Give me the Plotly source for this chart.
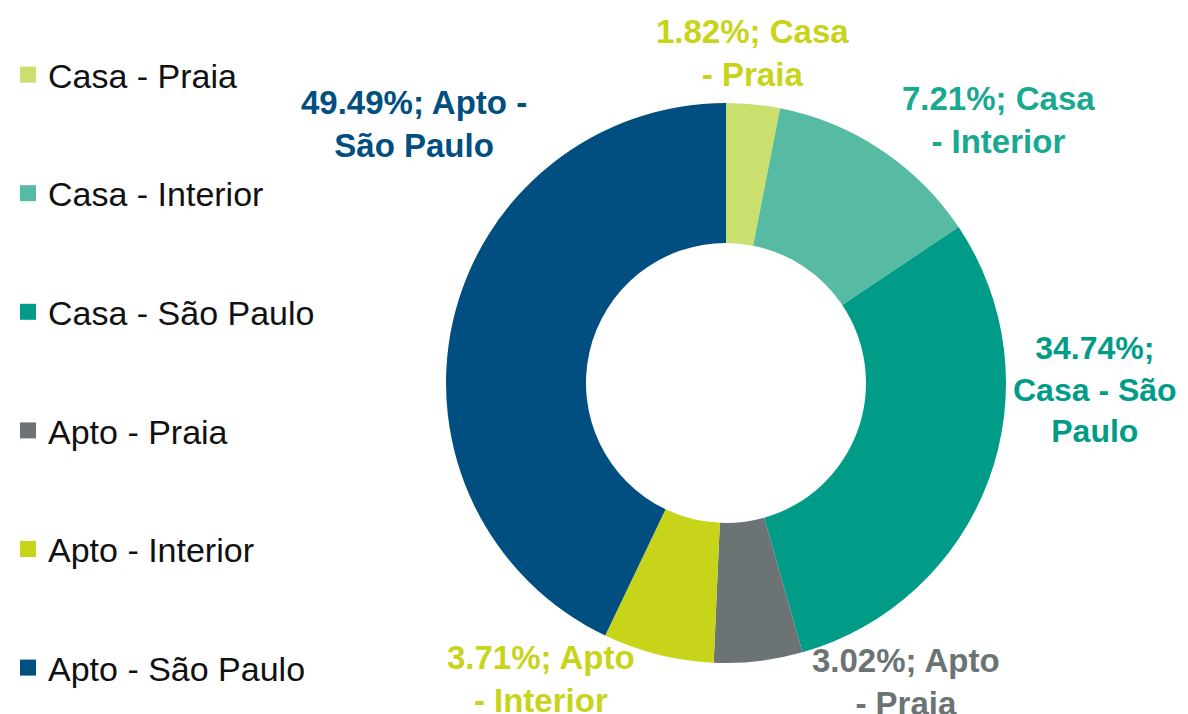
import plotly.graph_objects as go

categories = ["Casa - Praia", "Casa - Interior", "Casa - São Paulo",
              "Apto - Praia", "Apto - Interior", "Apto - São Paulo"]
# slice shares as drawn in the picture
slice_values = [3.1, 12.5, 30.0, 5.1, 6.4, 42.9]
# percentages printed on the labels
label_pct = ["1.82%", "7.21%", "34.74%", "3.02%", "3.71%", "49.49%"]
label_text = ["1.82%; Casa<br>- Praia", "7.21%; Casa<br>- Interior",
              "34.74%;<br>Casa - São<br>Paulo", "3.02%; Apto<br>- Praia",
              "3.71%; Apto<br>- Interior", "49.49%; Apto -<br>São Paulo"]

slice_colors = ["#C9E06E", "#56BBA2", "#009C87", "#6B7375", "#C8D419", "#004F80"]
label_colors = ["#C8D419", "#19A890", "#009C87", "#6B7375", "#C8D419", "#004F80"]
# label block centres in pixels (x, y from top) and font sizes
label_pos = [(744, 45), (990, 112), (1087, 381), (898, 674), (533, 671), (406, 116)]
label_size = [33, 33, 32, 33, 33, 33]

W, H = 1188, 714
FONT = "Liberation Sans, Arial, sans-serif"

fig = go.Figure()
fig.add_trace(go.Pie(
    labels=categories, values=slice_values, sort=False, direction="clockwise",
    rotation=0, hole=0.5, marker=dict(colors=slice_colors, line=dict(width=0)),
    textinfo="none", showlegend=False, hoverinfo="label+value",
    domain=dict(x=[438 / W, 998 / W], y=[59 / H, 619 / H]),
))

for cat, col in zip(categories, slice_colors):
    fig.add_trace(go.Scatter(
        x=[None], y=[None], mode="markers", name=cat, legendgroup=cat,
        marker=dict(symbol="square", size=20, color=col),
    ))

for txt, col, (px, py), sz in zip(label_text, label_colors, label_pos, label_size):
    fig.add_annotation(
        x=px / W, y=1 - py / H, xref="paper", yref="paper",
        text="<b>" + txt + "</b>", showarrow=False, align="center",
        font=dict(family=FONT, size=sz, color=col), xanchor="center", yanchor="middle",
    )

fig.update_layout(
    width=W, height=H, margin=dict(l=0, r=0, t=0, b=0),
    paper_bgcolor="white", plot_bgcolor="white",
    xaxis=dict(visible=False), yaxis=dict(visible=False),
    legend=dict(x=0, y=1 - 38 / H, xanchor="left", yanchor="top",
                font=dict(family=FONT, size=34, color="#111111"),
                tracegroupgap=71.4, bgcolor="rgba(0,0,0,0)"),
    font=dict(family=FONT),
)

fig.write_html("out.html")
